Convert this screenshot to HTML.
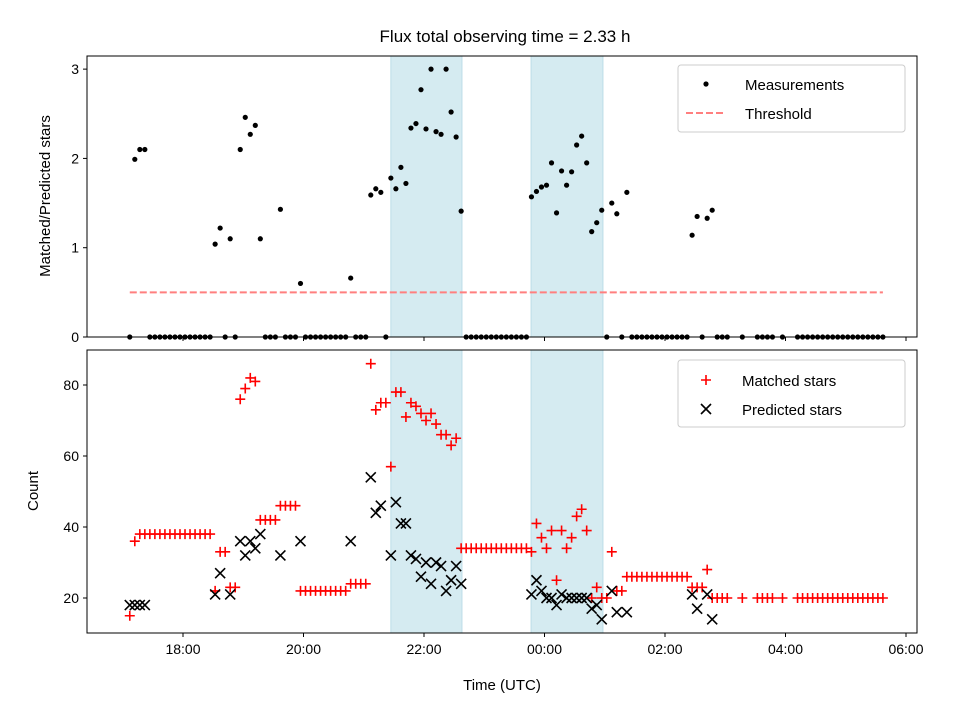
<!DOCTYPE html>
<html><head><meta charset="utf-8"><style>
body{margin:0;background:#fff;}
svg{display:block;font-family:"Liberation Sans","DejaVu Sans",sans-serif;}
</style></head><body>
<svg id="chart" width="960" height="720" viewBox="0 0 960 720"></svg>
<script>
const startMinutes = 17*60+7;
const stepMinutes = 5;
const ratio = [0,1.99,2.1,2.1,0,0,0,0,0,0,
0,0,0,0,0,0,0,1.04,1.22,0,
1.1,0,2.1,2.46,2.27,2.37,1.1,0,0,0,
1.43,0,0,0,0.6,0,0,0,0,0,
0,0,0,0,0.66,0,0,0,1.59,1.66,
1.62,0,1.78,1.66,1.9,1.72,2.34,2.39,2.77,2.33,
3.0,2.3,2.27,3.0,2.52,2.24,1.41,0,0,0,
0,0,0,0,0,0,0,0,0,0,
1.57,1.63,1.68,1.7,1.95,1.39,1.86,1.7,1.85,2.15,
2.25,1.95,1.18,1.28,1.42,0,1.5,1.38,0,1.62,
0,0,0,0,0,0,0,0,0,0,
0,0,1.14,1.35,0,1.33,1.42,0,0,0,
null,null,0,null,null,0,0,0,0,null,
0,null,null,0,0,0,0,0,0,0,
0,0,0,0,0,0,0,0,0,0,0];
const matched = [15,36,38,38,38,38,38,38,38,38,
38,38,38,38,38,38,38,22,33,33,
23,23,76,79,82,81,42,42,42,42,
46,46,46,46,22,22,22,22,22,22,
22,22,22,22,24,24,24,24,86,73,
75,75,57,78,78,71,75,74,72,70,
72,69,66,66,63,65,34,34,34,34,
34,34,34,34,34,34,34,34,34,34,
33,41,37,34,39,25,39,34,37,43,
45,39,20,23,20,20,33,22,22,26,
26,26,26,26,26,26,26,26,26,26,
26,26,23,23,23,28,20,20,20,20,
null,null,20,null,null,20,20,20,20,null,
20,null,null,20,20,20,20,20,20,20,
20,20,20,20,20,20,20,20,20,20,20];
const predictedSlots = [0,1,2,3,17,18,20,22,23,24,25,26,30,34,44,48,49,50,52,53,54,55,56,57,58,59,60,61,62,63,64,65,66,80,81,82,83,84,85,86,87,88,89,90,91,92,93,94,96,97,99,112,113,115,116];
const predictedValues = [18,18,18,18,21,27,21,36,32,36,34,38,32,36,36,54,44,46,32,47,41,41,32,31,26,30,24,30,29,22,25,29,24,21,25,22,20,20,18,21,20,20,20,20,20,17,18,14,22,16,16,21,17,21,14];
const thresholdValue = 0.5;
const spanStarts = [21.45, 23.777];
const spanEnds = [22.63, 24.97];
const xTickHours = [18,20,22,24,26,28,30];
const xTickLabels = ["18:00","20:00","22:00","00:00","02:00","04:00","06:00"];
const topYTicks = [0,1,2,3];
const botYTicks = [20,40,60,80];

const NS="http://www.w3.org/2000/svg";
const svg=document.getElementById('chart');
function mk(tag,attrs,parent){const e=document.createElementNS(NS,tag);for(const k in attrs)e.setAttribute(k,attrs[k]);(parent||svg).appendChild(e);return e;}
const L=87,R=917;
const xS=h=>183+(h-18)*60.25;
const slotHour=i=>(startMinutes+i*stepMinutes)/60;
const T={top:56,bot:337,min:0,max:3.147};
const B={top:350,bot:633,min:10.14,max:89.86};
const yT=v=>T.bot-(v-T.min)/(T.max-T.min)*(T.bot-T.top);
const yB=v=>B.bot-(v-B.min)/(B.max-B.min)*(B.bot-B.top);

function panel(P,name){
  const g=mk('g',{});
  
  
  for(let s=0;s<spanStarts.length;s++){
    const r=mk('rect',{x:xS(spanStarts[s]),y:P.top,width:xS(spanEnds[s])-xS(spanStarts[s]),height:P.bot-P.top,fill:'#d5ebf1',stroke:'#bcdde8','stroke-width':1},g);
    
    
  }
  return g;
}
function frame(P,name){
  const r=mk('rect',{x:L,y:P.top,width:R-L,height:P.bot-P.top,fill:'none',stroke:'#000','stroke-width':1});
  
  
  xTickHours.forEach((h)=>{
    const t=mk('line',{x1:xS(h),x2:xS(h),y1:P.bot,y2:P.bot+4,stroke:'#000'});
    
    
  });
}
// Top panel
const gt=panel(T,'top-panel');
const thr=mk('line',{x1:xS(slotHour(0)),x2:xS(slotHour(ratio.length-1)),y1:yT(thresholdValue),y2:yT(thresholdValue),stroke:'#ff7f7f','stroke-width':2,'stroke-dasharray':'7,3'},gt);


ratio.forEach((v,i)=>{if(v===null)return;
  const c=mk('circle',{cx:xS(slotHour(i)),cy:yT(v),r:2.6,fill:'#000'},gt);
  
  
});
frame(T,'top-axes');
topYTicks.forEach(v=>{
  mk('line',{x1:L-4,x2:L,y1:yT(v),y2:yT(v),stroke:'#000'});
  const t=mk('text',{x:L-8,y:yT(v)+5,'text-anchor':'end','font-size':14});t.textContent=v;
  
  
});
// Bottom panel
const gb=panel(B,'bottom-panel');
matched.forEach((v,i)=>{if(v===null)return;
  const x=xS(slotHour(i)),y=yB(v);
  const p=mk('path',{d:`M${x-5},${y}H${x+5}M${x},${y-5}V${y+5}`,stroke:'#ff0000','stroke-width':1.6,fill:'none'},gb);
  
  
});
predictedSlots.forEach((s,k)=>{
  const x=xS(slotHour(s)),y=yB(predictedValues[k]);
  const p=mk('path',{d:`M${x-5},${y-5}L${x+5},${y+5}M${x-5},${y+5}L${x+5},${y-5}`,stroke:'#000','stroke-width':1.6,fill:'none'},gb);
  
  
});
frame(B,'bottom-axes');
botYTicks.forEach(v=>{
  mk('line',{x1:L-4,x2:L,y1:yB(v),y2:yB(v),stroke:'#000'});
  const t=mk('text',{x:L-8,y:yB(v)+5,'text-anchor':'end','font-size':14});t.textContent=v;
  
  
});
xTickHours.forEach((h,i)=>{
  const t=mk('text',{x:xS(h),y:B.bot+21,'text-anchor':'middle','font-size':14});t.textContent=xTickLabels[i];
  
  
});
</script>
<svg width="960" height="720" style="position:absolute;left:0;top:0">
<text x="505" y="42" text-anchor="middle" font-size="17" font-family="Liberation Sans, sans-serif">Flux total observing time = 2.33 h</text>
<text transform="translate(50,196) rotate(-90)" text-anchor="middle" font-size="15" font-family="Liberation Sans, sans-serif">Matched/Predicted stars</text>
<text transform="translate(38,491) rotate(-90)" text-anchor="middle" font-size="15" font-family="Liberation Sans, sans-serif">Count</text>
<text x="502" y="690" text-anchor="middle" font-size="15" font-family="Liberation Sans, sans-serif">Time (UTC)</text>
<g>
<rect x="678" y="65" width="227" height="67" rx="3" fill="#fff" fill-opacity="0.8" stroke="#ccc"/>
<circle cx="706" cy="84" r="2.6" fill="#000"/>
<text x="745" y="90" font-size="15" font-family="Liberation Sans, sans-serif">Measurements</text>
<line x1="686" x2="726" y1="113" y2="113" stroke="#ff7f7f" stroke-width="2" stroke-dasharray="7,3"/>
<text x="745" y="119" font-size="15" font-family="Liberation Sans, sans-serif">Threshold</text>
</g>
<g>
<rect x="678" y="360" width="227" height="67" rx="3" fill="#fff" fill-opacity="0.8" stroke="#ccc"/>
<path d="M701,380H711M706,375V385" stroke="#f00" stroke-width="1.6"/>
<text x="742" y="386" font-size="15" font-family="Liberation Sans, sans-serif">Matched stars</text>
<path d="M701,404L711,414M701,414L711,404" stroke="#000" stroke-width="1.6"/>
<text x="742" y="415" font-size="15" font-family="Liberation Sans, sans-serif">Predicted stars</text>
</g>
</svg>
</body></html>
